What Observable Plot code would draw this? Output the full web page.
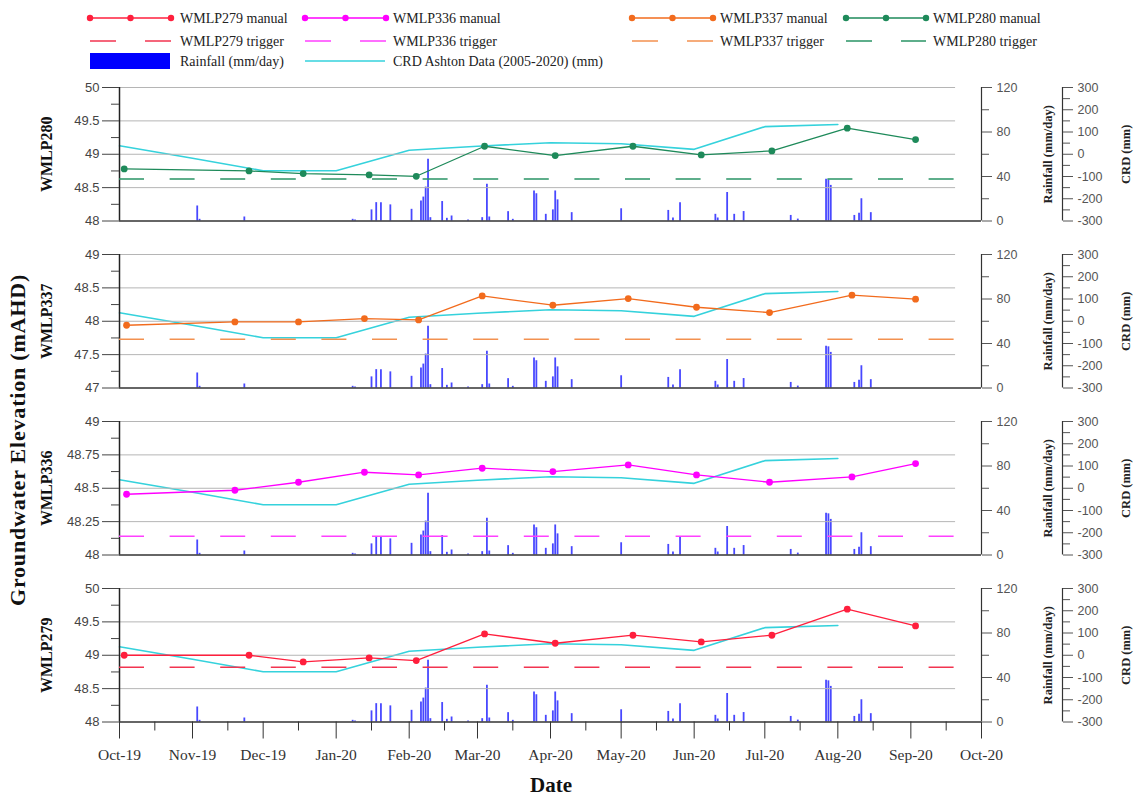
<!DOCTYPE html>
<html><head><meta charset="utf-8">
<script src="https://cdn.jsdelivr.net/npm/d3@7"></script>
<script src="https://cdn.jsdelivr.net/npm/@observablehq/plot@0.6"></script>
<style>
body{margin:0;background:#fff;}
#chart{position:relative;width:1136px;height:798px;background:#fff;}
#chart svg{position:absolute;left:0;overflow:visible;}
</style></head><body><div id="chart"></div>
<script>
// ---------------- DATA ----------------
const wells = ["WMLP280", "WMLP337", "WMLP336", "WMLP279"];
// survey dates (WMLP279 & WMLP280 share one round, WMLP336 & WMLP337 another)
const datesA = ["2019-10-03","2019-11-25","2019-12-18","2020-01-15","2020-02-04","2020-03-04","2020-04-03","2020-05-06","2020-06-04","2020-07-04","2020-08-05","2020-09-03"];
const datesB = ["2019-10-04","2019-11-19","2019-12-16","2020-01-13","2020-02-05","2020-03-03","2020-04-02","2020-05-04","2020-06-02","2020-07-03","2020-08-07","2020-09-03"];
const wmlp280 = [48.78,48.75,48.71,48.69,48.67,49.12,48.98,49.12,48.99,49.05,49.39,49.22];
const wmlp337 = [47.94,47.99,47.99,48.04,48.02,48.38,48.24,48.34,48.21,48.13,48.39,48.33];
const wmlp336 = [48.455,48.485,48.545,48.62,48.60,48.65,48.625,48.675,48.60,48.545,48.585,48.685];
const wmlp279 = [49.00,49.00,48.90,48.96,48.92,49.32,49.18,49.30,49.20,49.30,49.69,49.44];
const triggerLevels = [48.63, 47.73, 48.14, 48.82];
// CRD Ashton (mm), monthly
const crdMonths = ["2019-10-01","2019-11-01","2019-12-01","2020-01-01","2020-02-01","2020-03-01","2020-04-01","2020-05-01","2020-06-01","2020-07-01","2020-08-01"];
const crdValues = [38,-18,-74,-74,18,36,52,47,22,124,134];
// daily rainfall (mm/day)
const rainDates = ["2019-11-03","2019-11-04","2019-11-23","2020-01-08","2020-01-09","2020-01-16","2020-01-18","2020-01-20","2020-01-24","2020-02-02","2020-02-06","2020-02-07","2020-02-08","2020-02-09","2020-02-10","2020-02-15","2020-02-17","2020-02-19","2020-02-26","2020-03-03","2020-03-05","2020-03-06","2020-03-14","2020-03-16","2020-03-25","2020-03-26","2020-03-30","2020-04-02","2020-04-03","2020-04-04","2020-04-10","2020-05-01","2020-05-21","2020-05-23","2020-05-26","2020-06-10","2020-06-11","2020-06-15","2020-06-18","2020-06-22","2020-07-12","2020-07-15","2020-07-27","2020-07-28","2020-07-29","2020-08-08","2020-08-10","2020-08-11","2020-08-15"];
const rainValues = [13.5,1.5,3.6,1.5,1,10,16.5,16.5,14.5,10.5,18,21.5,30.5,55.5,3,17.5,2.4,4.5,1,3,33,3.6,8.4,1.5,27,24.5,6,10,27,19,7.5,11,9.5,2.7,16.4,6,2.7,25.6,6,8.5,5,1.7,37.5,37,32,5,7,20,7.5];
// tick labels
const monthTicks = ["2019-10-01","2019-11-01","2019-12-01","2020-01-01","2020-02-01","2020-03-01","2020-04-01","2020-05-01","2020-06-01","2020-07-01","2020-08-01","2020-09-01","2020-10-01"];
const monthLabels = ["Oct-19","Nov-19","Dec-19","Jan-20","Feb-20","Mar-20","Apr-20","May-20","Jun-20","Jul-20","Aug-20","Sep-20","Oct-20"];
const rainTicks = [0, 40, 80, 120];
const crdTicks = [-300, -200, -100, 0, 100, 200, 300];

// ---------------- SETUP ----------------
const P = d => new Date(d + "T00:00:00Z");
const levels = [wmlp280, wmlp337, wmlp336, wmlp279];
const wellDates = [datesA, datesB, datesB, datesA];
const manualColors = ["#1e8a5a", "#f26b1d", "#ff00ff", "#ff1f3d"];
const triggerColors = ["#2a9466", "#f39150", "#ff40ff", "#f23450"];
const yDomains = [[48, 50], [47, 49], [48, 49], [48, 50]];
const ySteps = [0.5, 0.5, 0.25, 0.5];
const panelTops = [87, 254, 421, 588];
const panelH = 133.5;
const W = 1136, ML = 119, MR = W - 981;
const xStart = P("2019-10-01"), xEnd = P("2020-10-01");
const gridEnd = P("2020-09-20"), trigEnd = P("2020-09-21");
const serif = "'Liberation Serif', 'DejaVu Serif', serif";
const sans = "'Liberation Sans', Arial, sans-serif";
const blue = "#1a1aff", cyan = "#35d2dc";

const rain = rainDates.map((d, i) => ({date: P(d), mm: rainValues[i]}));
const crd = crdMonths.map((d, i) => ({date: P(d), mm: crdValues[i]}));
const labelMap = new Map(monthTicks.map((d, i) => [+P(d), monthLabels[i]]));
const monthDates = monthTicks.map(P);
const midMonths = monthDates.slice(0, -1).map(d => d3.utcDay.offset(d, 15));

const chart = document.getElementById("chart");
const MT = 10;

function place(svg, top) {
  svg.style.top = top + "px";
  chart.appendChild(svg);
}

wells.forEach((well, k) => {
  const last = k === 3;
  const MB = last ? 60 : 10;
  const H = panelH + MT + MB;
  const top = panelTops[k] - MT;
  const [lo, hi] = yDomains[k];
  const step = ySteps[k];
  const major = d3.range(lo, hi + step / 2, step);
  const minor = d3.range(lo + step / 2, hi, step);
  const manual = wellDates[k].map((d, i) => ({date: P(d), level: levels[k][i]}));
  const common = {
    width: W, height: H, marginLeft: ML, marginRight: MR, marginTop: MT, marginBottom: MB,
    style: {background: "transparent", overflow: "visible", fontFamily: sans}
  };
  const xs = {type: "utc", domain: [xStart, xEnd], axis: null};

  // rainfall overlay
  const rainPlot = Plot.plot({
    ...common,
    x: xs,
    y: {domain: [0, 120], axis: null},
    marks: [
      Plot.ruleX(rain, {x: "date", y1: 0, y2: "mm", stroke: blue, strokeWidth: 1.8, strokeOpacity: 0.8}),
      Plot.ruleX([xEnd], {x: d => d, stroke: "#333", strokeWidth: 1.2}),
      Plot.axisY(rainTicks, {anchor: "right", tickSize: 10, tickPadding: 5, fontSize: 12.5, color: "#555", tickFormat: d => String(d), label: null}),
      Plot.axisY([20, 60, 100], {anchor: "right", tickSize: 7, tickFormat: () => "", color: "#555", label: null}),
      Plot.text(["Rainfall (mm/day)"], {text: d => d, frameAnchor: "right", textAnchor: "middle", lineAnchor: "middle", rotate: -90, dx: 66, fontSize: 12.5, fontWeight: "bold", fontFamily: serif, fill: "#222"})
    ]
  });
  place(rainPlot, top);

  // CRD overlay
  const crdPlot = Plot.plot({
    ...common,
    x: xs,
    y: {domain: [-300, 300], axis: null},
    marks: [
      Plot.line(crd, {x: "date", y: "mm", stroke: cyan, strokeWidth: 1.6}),
      Plot.ruleX([xEnd], {x: d => d, dx: 81, stroke: "#333", strokeWidth: 1.2}),
      Plot.axisY(crdTicks, {anchor: "right", dx: 81, tickSize: 10, tickPadding: 5, fontSize: 12.5, color: "#555", tickFormat: d => String(d), label: null}),
      Plot.axisY(d3.range(-250, 300, 100), {anchor: "right", dx: 81, tickSize: 7, tickFormat: () => "", color: "#555", label: null}),
      Plot.text(["CRD (mm)"], {text: d => d, frameAnchor: "right", textAnchor: "middle", lineAnchor: "middle", rotate: -90, dx: 144, fontSize: 12.5, fontWeight: "bold", fontFamily: serif, fill: "#222"})
    ]
  });
  place(crdPlot, top);

  // main elevation plot
  const marks = [
    Plot.ruleY(major.filter(v => v !== lo), {y: d => d, x1: () => xStart, x2: () => gridEnd, stroke: "#b5b5b5", strokeWidth: 1}),
    Plot.ruleY([lo], {y: d => d, stroke: "#333", strokeWidth: 1.3}),
    Plot.ruleX([xStart], {x: d => d, stroke: "#222", strokeWidth: 1.5}),
    Plot.axisY(major, {anchor: "left", tickSize: 17, tickPadding: 3, fontSize: 13, color: "#444", tickFormat: d => String(+d.toFixed(2)), label: null}),
    Plot.axisY(minor, {anchor: "left", tickSize: 8, tickFormat: () => "", color: "#444", label: null}),
    Plot.ruleY([triggerLevels[k]], {y: d => d, x1: () => xStart, x2: () => trigEnd, stroke: triggerColors[k], strokeWidth: 1.4, strokeDasharray: "25,25.6"}),
    Plot.line(manual, {x: "date", y: "level", stroke: manualColors[k], strokeWidth: 1.3}),
    Plot.dot(manual, {x: "date", y: "level", fill: manualColors[k], r: 3.4}),
    Plot.text([well], {text: d => d, frameAnchor: "left", textAnchor: "middle", lineAnchor: "middle", rotate: -90, dx: -73, fontSize: 16, fontWeight: "bold", fontFamily: serif, fill: "#111"})
  ];
  if (last) {
    marks.push(
      Plot.axisX(monthDates, {anchor: "bottom", tickSize: 17, tickPadding: 10, fontSize: 15.5, fontFamily: serif, color: "#333", tickFormat: d => labelMap.get(+d), label: null}),
      Plot.axisX(midMonths, {anchor: "bottom", tickSize: 9, tickFormat: () => "", color: "#333", label: null})
    );
  }
  const mainPlot = Plot.plot({
    ...common,
    x: last ? {type: "utc", domain: [xStart, xEnd]} : xs,
    y: {domain: [lo, hi], axis: null},
    marks
  });
  place(mainPlot, top);
});

// ---------------- TITLES ----------------
const titles = d3.create("svg").attr("width", W).attr("height", 798).style("top", "0px");
titles.append("text").attr("transform", "translate(25,440) rotate(-90)").attr("text-anchor", "middle")
  .attr("font-family", serif).attr("font-weight", "bold").attr("font-size", 22).attr("letter-spacing", 0.8).attr("fill", "#111")
  .text("Groundwater Elevation (mAHD)");
titles.append("text").attr("x", 551).attr("y", 792).attr("text-anchor", "middle")
  .attr("font-family", serif).attr("font-weight", "bold").attr("font-size", 21).attr("fill", "#111")
  .text("Date");
chart.appendChild(titles.node());

// ---------------- LEGEND ----------------
const legend = d3.create("svg").attr("width", W).attr("height", 76).style("top", "0px");
const legItems = [
  {x0: 90, x1: 171, tx: 180, c: manualColors[3], t: "WMLP279 manual"},
  {x0: 305, x1: 386, tx: 393, c: manualColors[2], t: "WMLP336 manual"},
  {x0: 632, x1: 713, tx: 720, c: manualColors[1], t: "WMLP337 manual"},
  {x0: 846, x1: 926, tx: 933, c: manualColors[0], t: "WMLP280 manual"}
];
const trigItems = [
  {x0: 90, x1: 171, tx: 180, c: triggerColors[3], t: "WMLP279 trigger"},
  {x0: 305, x1: 386, tx: 393, c: triggerColors[2], t: "WMLP336 trigger"},
  {x0: 632, x1: 713, tx: 720, c: triggerColors[1], t: "WMLP337 trigger"},
  {x0: 846, x1: 926, tx: 933, c: triggerColors[0], t: "WMLP280 trigger"}
];
const lt = (x, y, t) => legend.append("text").attr("x", x).attr("y", y).attr("dy", "0.35em")
  .attr("font-family", serif).attr("font-size", 14).attr("fill", "#222").text(t);
legItems.forEach(it => {
  legend.append("line").attr("x1", it.x0).attr("x2", it.x1).attr("y1", 18).attr("y2", 18).attr("stroke", it.c).attr("stroke-width", 1.3);
  [it.x0, (it.x0 + it.x1) / 2, it.x1].forEach(x => legend.append("circle").attr("cx", x).attr("cy", 18).attr("r", 3.2).attr("fill", it.c));
  lt(it.tx, 18, it.t);
});
trigItems.forEach(it => {
  legend.append("line").attr("x1", it.x0).attr("x2", it.x1).attr("y1", 41).attr("y2", 41).attr("stroke", it.c).attr("stroke-width", 1.4).attr("stroke-dasharray", "26,29");
  lt(it.tx, 41, it.t);
});
legend.append("rect").attr("x", 90).attr("y", 53).attr("width", 80).attr("height", 16).attr("fill", "#0000ff");
lt(180, 61, "Rainfall (mm/day)");
legend.append("line").attr("x1", 305).attr("x2", 385).attr("y1", 61).attr("y2", 61).attr("stroke", cyan).attr("stroke-width", 1.6);
lt(393, 61, "CRD Ashton Data (2005-2020) (mm)");
chart.appendChild(legend.node());
</script></body></html>
